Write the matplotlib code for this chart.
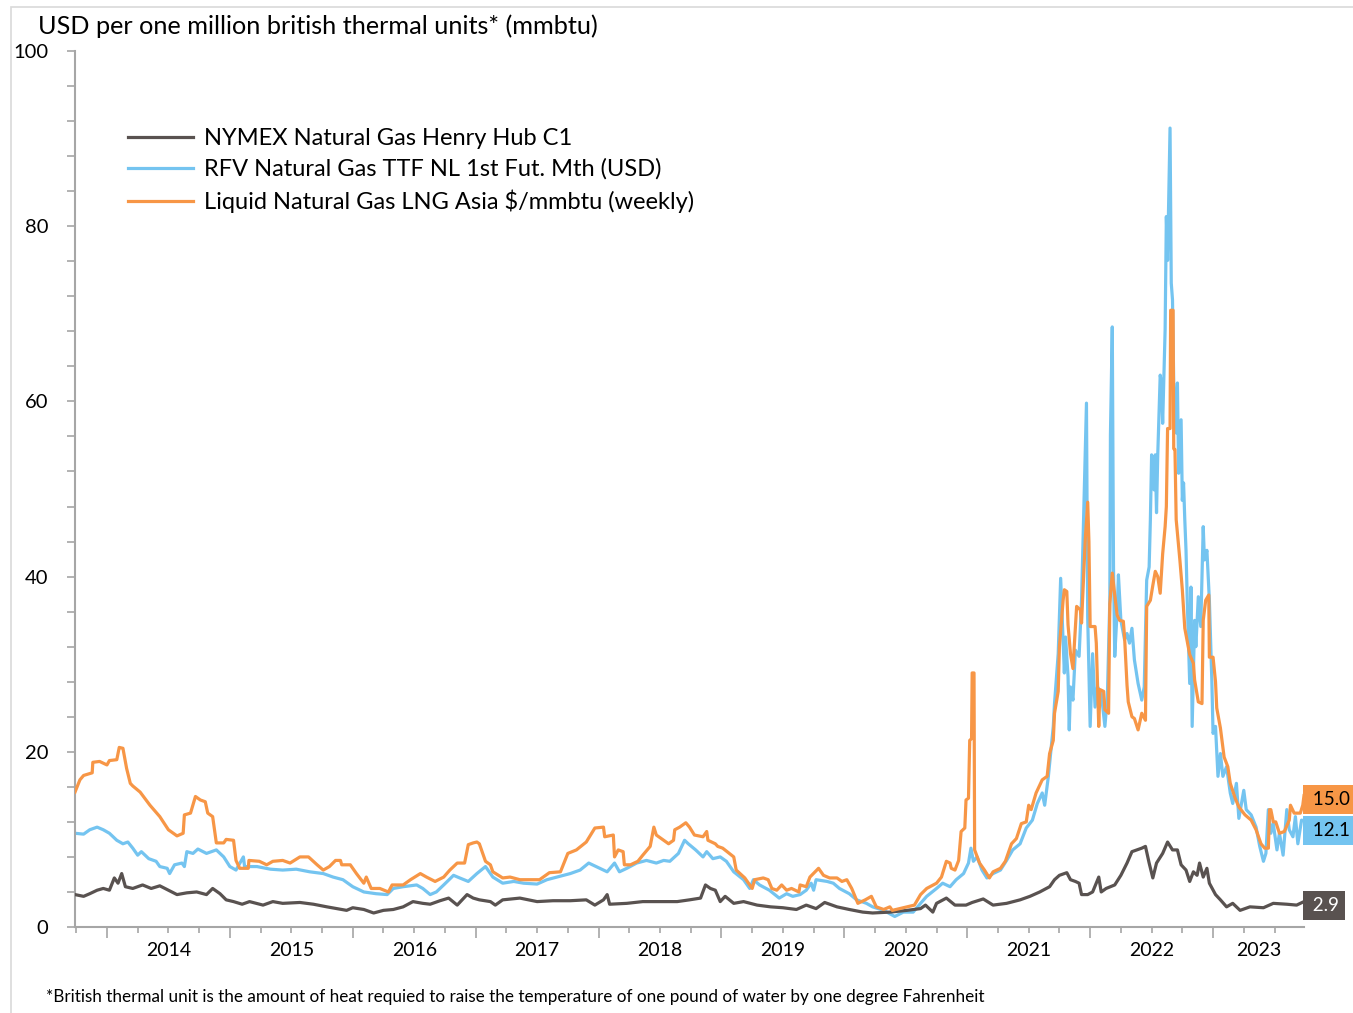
import matplotlib.pyplot as plt
import numpy as np
from matplotlib.ticker import FixedLocator, FuncFormatter
from matplotlib.patches import Rectangle

plt.rcParams['font.family'] = ['Lato', 'DejaVu Sans']

# --- data (decimal year, USD/mmbtu) ---
hh_t = [2013.74, 2013.81, 2013.86, 2013.92, 2013.97, 2014.02, 2014.06, 2014.09, 2014.12, 2014.15,
        2014.21, 2014.29, 2014.36, 2014.43, 2014.50, 2014.57, 2014.65, 2014.73, 2014.81, 2014.86,
        2014.92, 2014.97, 2015.03, 2015.10, 2015.16, 2015.27, 2015.35, 2015.43, 2015.57, 2015.68,
        2015.79, 2015.87, 2015.95, 2016.00, 2016.09, 2016.17, 2016.25, 2016.33, 2016.41, 2016.49,
        2016.57, 2016.63, 2016.71, 2016.78, 2016.85, 2016.93, 2016.98, 2017.03, 2017.12, 2017.16,
        2017.22, 2017.36, 2017.50, 2017.63, 2017.77, 2017.90, 2017.97, 2018.04, 2018.07, 2018.09,
        2018.23, 2018.36, 2018.50, 2018.64, 2018.74, 2018.83, 2018.87, 2018.91, 2018.95, 2018.99,
        2019.03, 2019.10, 2019.18, 2019.29, 2019.40, 2019.50, 2019.61, 2019.69, 2019.77, 2019.84,
        2019.94, 2020.04, 2020.15, 2020.23, 2020.37, 2020.51, 2020.62, 2020.66, 2020.72, 2020.75,
        2020.83, 2020.90, 2020.99, 2021.04, 2021.13, 2021.21, 2021.32, 2021.43, 2021.51, 2021.59,
        2021.67, 2021.71, 2021.75, 2021.81, 2021.84, 2021.88, 2021.91, 2021.93, 2021.98, 2022.02,
        2022.07, 2022.09, 2022.13, 2022.20, 2022.25, 2022.30, 2022.34, 2022.38, 2022.42, 2022.45,
        2022.48, 2022.51, 2022.54, 2022.59, 2022.63, 2022.67, 2022.71, 2022.74, 2022.78, 2022.81,
        2022.84, 2022.87, 2022.89, 2022.92, 2022.95, 2022.97, 2023.02, 2023.06, 2023.11, 2023.16,
        2023.22, 2023.30, 2023.41, 2023.49, 2023.60, 2023.68, 2023.74]
hh_v = [3.7, 3.5, 3.8, 4.2, 4.4, 4.2, 5.6, 5.0, 6.1, 4.6,
        4.4, 4.8, 4.4, 4.7, 4.2, 3.7, 3.9, 4.0, 3.7, 4.4,
        3.8, 3.1, 2.9, 2.6, 2.9, 2.5, 2.9, 2.7, 2.8, 2.6,
        2.3, 2.1, 1.9, 2.2, 2.0, 1.6, 1.9, 2.0, 2.3, 2.9,
        2.7, 2.6, 3.0, 3.3, 2.5, 3.7, 3.3, 3.1, 2.9, 2.5,
        3.1, 3.3, 2.9, 3.0, 3.0, 3.1, 2.5, 3.1, 3.7, 2.6,
        2.7, 2.9, 2.9, 2.9, 3.1, 3.3, 4.8, 4.4, 4.2, 2.9,
        3.5, 2.7, 2.9, 2.5, 2.3, 2.2, 2.0, 2.5, 2.1, 2.8,
        2.3, 2.0, 1.7, 1.6, 1.7, 1.9, 2.1, 2.5, 1.7, 2.7,
        3.3, 2.5, 2.5, 2.8, 3.2, 2.5, 2.7, 3.1, 3.5, 4.0,
        4.6, 5.4, 5.9, 6.2, 5.4, 5.2, 5.0, 3.7, 3.7, 4.0,
        5.7, 4.0, 4.4, 4.8, 5.9, 7.3, 8.6, 8.8, 9.0, 9.2,
        7.3, 5.6, 7.3, 8.4, 9.7, 8.8, 8.8, 7.1, 6.5, 5.2,
        6.3, 5.9, 7.3, 5.7, 6.7, 5.0, 3.7, 3.1, 2.3, 2.7,
        1.9, 2.3, 2.2, 2.7, 2.6, 2.5, 2.9]

ttf_t = [2013.74, 2013.81, 2013.86, 2013.92, 2013.97, 2014.02, 2014.08, 2014.13, 2014.17, 2014.21,
         2014.25, 2014.28, 2014.34, 2014.40, 2014.43, 2014.49, 2014.51, 2014.55, 2014.61, 2014.63,
         2014.65, 2014.70, 2014.74, 2014.81, 2014.89, 2014.95, 2015.00, 2015.05, 2015.11, 2015.12,
         2015.22, 2015.33, 2015.43, 2015.54, 2015.65, 2015.76, 2015.84, 2015.92, 2016.00, 2016.09,
         2016.19, 2016.28, 2016.33, 2016.41, 2016.52, 2016.57, 2016.63, 2016.68, 2016.74, 2016.82,
         2016.87, 2016.94, 2017.01, 2017.08, 2017.11, 2017.14, 2017.22, 2017.31, 2017.39, 2017.50,
         2017.58, 2017.66, 2017.77, 2017.85, 2017.92, 2017.98, 2018.07, 2018.13, 2018.17, 2018.23,
         2018.31, 2018.39, 2018.47, 2018.53, 2018.58, 2018.65, 2018.70, 2018.73, 2018.79, 2018.85,
         2018.88, 2018.93, 2018.99, 2019.04, 2019.10, 2019.18, 2019.23, 2019.26, 2019.31, 2019.39,
         2019.47, 2019.53, 2019.58, 2019.64, 2019.69, 2019.73, 2019.75, 2019.77, 2019.86, 2019.91,
         2019.96, 2020.04, 2020.10, 2020.18, 2020.23, 2020.32, 2020.41, 2020.48, 2020.56, 2020.62,
         2020.67, 2020.75, 2020.80, 2020.86, 2020.91, 2020.97, 2021.01, 2021.03, 2021.05, 2021.08,
         2021.12, 2021.16, 2021.21, 2021.27, 2021.32, 2021.37, 2021.43, 2021.48, 2021.53, 2021.57,
         2021.61, 2021.63, 2021.66, 2021.70, 2021.71, 2021.74, 2021.76, 2021.78, 2021.79, 2021.80,
         2021.82, 2021.83, 2021.84, 2021.86, 2021.88, 2021.91, 2021.93, 2021.94, 2021.97, 2021.98,
         2022.00, 2022.02, 2022.04, 2022.06, 2022.09, 2022.12, 2022.14, 2022.16, 2022.165, 2022.18,
         2022.19, 2022.20, 2022.22, 2022.23, 2022.25, 2022.28, 2022.30, 2022.32, 2022.34, 2022.36,
         2022.39, 2022.42, 2022.44, 2022.46, 2022.48, 2022.49, 2022.50, 2022.52, 2022.53, 2022.54,
         2022.55, 2022.57, 2022.58, 2022.59, 2022.61, 2022.62, 2022.63, 2022.65, 2022.66, 2022.67,
         2022.68, 2022.70, 2022.71, 2022.72, 2022.74, 2022.75, 2022.76, 2022.77, 2022.78, 2022.79,
         2022.81, 2022.82, 2022.83, 2022.85, 2022.86, 2022.88, 2022.90, 2022.92, 2022.93, 2022.95,
         2022.97, 2022.99, 2023.00, 2023.02, 2023.04, 2023.06, 2023.08, 2023.11, 2023.14, 2023.16,
         2023.19, 2023.21, 2023.25, 2023.27, 2023.31, 2023.35, 2023.38, 2023.41, 2023.43, 2023.45,
         2023.47, 2023.49, 2023.52, 2023.54, 2023.57, 2023.60, 2023.62, 2023.65, 2023.67, 2023.69,
         2023.72, 2023.74]
ttf_v = [10.7, 10.6, 11.1, 11.4, 11.1, 10.7, 9.9, 9.5, 9.7, 9.0,
         8.2, 8.6, 7.8, 7.5, 6.9, 6.7, 6.1, 7.1, 7.3, 6.9,
         8.6, 8.4, 8.9, 8.4, 8.8, 8.0, 6.9, 6.5, 8.0, 6.9,
         6.9, 6.6, 6.5, 6.6, 6.3, 6.1, 5.7, 5.4, 4.6, 4.0,
         3.8, 3.7, 4.4, 4.6, 4.8, 4.4, 3.7, 4.0, 4.8, 5.9,
         5.6, 5.2, 6.1, 6.9, 6.3, 5.7, 5.0, 5.2, 5.0, 4.9,
         5.4, 5.7, 6.1, 6.5, 7.3, 6.9, 6.3, 7.3, 6.3, 6.7,
         7.3, 7.6, 7.3, 7.6, 7.5, 8.4, 9.9, 9.5, 8.8, 8.0,
         8.6, 7.8, 8.0, 7.5, 6.3, 5.4, 4.4, 5.4, 4.8, 4.2,
         3.3, 3.8, 3.5, 3.7, 4.2, 5.0, 4.2, 5.4, 5.2, 5.0,
         4.4, 3.8, 3.1, 2.7, 2.3, 1.9, 1.2, 1.7, 1.7, 2.7,
         3.5, 4.4, 5.0, 4.6, 5.4, 6.1, 7.3, 9.0, 7.5, 8.0,
         6.5, 5.6, 6.1, 6.5, 7.6, 8.8, 9.5, 11.3, 12.2, 14.1,
         15.3, 13.9, 17.2, 22.9, 25.5, 31.2, 39.8, 32.8, 29.0, 33.1,
         28.6, 22.5, 27.4, 25.9, 31.6, 30.9, 37.3, 43.0, 59.8, 35.4,
         22.9, 31.2, 25.1, 27.4, 26.7, 22.9, 26.3, 37.3, 56.2, 68.5,
         41.1, 30.9, 36.2, 40.2, 35.0, 32.8, 33.5, 32.4, 34.1, 30.5,
         27.8, 25.9, 27.4, 39.6, 41.1, 46.5, 53.9, 49.9, 53.9, 47.3,
         53.9, 63.0, 62.1, 57.5, 68.2, 81.1, 76.1, 91.2, 73.5, 71.6,
         62.1, 56.4, 62.1, 51.8, 57.9, 48.7, 50.7, 46.5, 43.0, 37.3,
         27.8, 38.8, 22.9, 35.0, 32.0, 37.7, 34.3, 45.7, 41.9, 43.0,
         37.3, 28.2, 22.1, 22.9, 17.2, 19.8, 17.2, 18.3, 15.3, 14.1,
         16.4, 12.4, 15.6, 13.4, 12.8, 11.4, 9.2, 7.5, 8.4, 13.4,
         10.7, 11.8, 8.8, 10.7, 8.2, 13.4, 11.1, 10.3, 12.6, 9.5,
         12.2, 12.1]

lng_t = [2013.74, 2013.78, 2013.81, 2013.88, 2013.885, 2013.94, 2014.00, 2014.02, 2014.08, 2014.10,
         2014.13, 2014.16, 2014.19, 2014.21, 2014.27, 2014.35, 2014.43, 2014.50, 2014.57, 2014.62,
         2014.63, 2014.68, 2014.72, 2014.76, 2014.80, 2014.82, 2014.86, 2014.89, 2014.95, 2014.97,
         2015.03, 2015.05, 2015.08, 2015.15, 2015.155, 2015.24, 2015.30, 2015.35, 2015.43, 2015.49,
         2015.57, 2015.64, 2015.71, 2015.76, 2015.81, 2015.86, 2015.90, 2015.91, 2015.98, 2016.03,
         2016.09, 2016.11, 2016.15, 2016.22, 2016.29, 2016.32, 2016.41, 2016.47, 2016.55, 2016.60,
         2016.67, 2016.74, 2016.79, 2016.85, 2016.91, 2016.94, 2016.98, 2017.01, 2017.03, 2017.08,
         2017.12, 2017.14, 2017.22, 2017.28, 2017.36, 2017.52, 2017.60, 2017.69, 2017.75, 2017.82,
         2017.90, 2017.97, 2018.04, 2018.05, 2018.12, 2018.13, 2018.16, 2018.20, 2018.21, 2018.26,
         2018.32, 2018.36, 2018.42, 2018.45, 2018.47, 2018.53, 2018.57, 2018.61, 2018.62, 2018.66,
         2018.71, 2018.74, 2018.78, 2018.85, 2018.88, 2018.89, 2018.95, 2018.97, 2019.01, 2019.10,
         2019.12, 2019.19, 2019.25, 2019.27, 2019.34, 2019.38, 2019.41, 2019.45, 2019.49, 2019.53,
         2019.57, 2019.63, 2019.64, 2019.69, 2019.72, 2019.79, 2019.83, 2019.88, 2019.94, 2019.98,
         2020.02, 2020.06, 2020.11, 2020.17, 2020.22, 2020.26, 2020.32, 2020.37, 2020.39, 2020.51,
         2020.57, 2020.62, 2020.67, 2020.75, 2020.79, 2020.83, 2020.86, 2020.87, 2020.90, 2020.93,
         2020.95, 2020.98, 2020.99, 2021.01, 2021.02, 2021.035, 2021.04, 2021.055, 2021.06, 2021.10,
         2021.14, 2021.18, 2021.21, 2021.27, 2021.31, 2021.36, 2021.40, 2021.44, 2021.48, 2021.50,
         2021.52, 2021.56, 2021.61, 2021.65, 2021.67, 2021.70, 2021.71, 2021.74, 2021.75, 2021.78,
         2021.79, 2021.81, 2021.82, 2021.84, 2021.86, 2021.89, 2021.92, 2021.93, 2021.96, 2021.98,
         2021.99, 2022.00, 2022.04, 2022.05, 2022.07, 2022.08, 2022.11, 2022.12, 2022.15, 2022.16,
         2022.18, 2022.20, 2022.22, 2022.24, 2022.27, 2022.28, 2022.30, 2022.31, 2022.34, 2022.36,
         2022.39, 2022.42, 2022.45, 2022.46, 2022.49, 2022.51, 2022.53, 2022.55, 2022.57, 2022.59,
         2022.61, 2022.62, 2022.63, 2022.65, 2022.655, 2022.675, 2022.68, 2022.69, 2022.70, 2022.73,
         2022.75, 2022.77, 2022.79, 2022.81, 2022.84, 2022.85, 2022.88, 2022.91, 2022.92, 2022.94,
         2022.965, 2022.97, 2023.00, 2023.02, 2023.03, 2023.06, 2023.09, 2023.12, 2023.14, 2023.18,
         2023.21, 2023.26, 2023.31, 2023.35, 2023.39, 2023.42, 2023.45, 2023.46, 2023.47, 2023.49,
         2023.51, 2023.54, 2023.58, 2023.62, 2023.63, 2023.66, 2023.71, 2023.73, 2023.74]
lng_v = [15.4, 16.8, 17.3, 17.6, 18.8, 18.9, 18.5, 19.0, 19.1, 20.5,
         20.4, 18.1, 16.4, 16.1, 15.4, 13.9, 12.6, 11.1, 10.4, 10.7,
         12.8, 13.0, 14.9, 14.5, 14.3, 13.0, 12.6, 9.6, 9.6, 10.0,
         9.9, 7.6, 6.7, 6.7, 7.6, 7.5, 7.1, 7.5, 7.6, 7.3,
         8.0, 8.0, 7.1, 6.5, 6.9, 7.6, 7.6, 7.1, 7.1, 6.1,
         5.0, 5.7, 4.4, 4.4, 4.0, 4.8, 4.8, 5.4, 6.1, 5.7,
         5.2, 5.7, 6.5, 7.3, 7.3, 9.4, 9.6, 9.7, 9.5, 7.5,
         7.1, 6.3, 5.6, 5.7, 5.4, 5.4, 6.2, 6.3, 8.4, 8.8,
         9.7, 11.3, 11.4, 10.3, 10.5, 8.0, 8.8, 8.6, 7.1, 7.1,
         7.5, 8.2, 9.2, 11.4, 10.5, 9.9, 9.5, 9.9, 11.1, 11.4,
         11.9, 11.4, 10.5, 10.3, 10.9, 9.9, 9.5, 9.2, 9.0, 8.0,
         6.5, 5.6, 4.4, 5.4, 5.6, 5.4, 4.4, 4.2, 4.8, 4.2,
         4.4, 4.0, 4.8, 4.6, 5.7, 6.7, 5.9, 5.6, 5.6, 5.2,
         5.4, 4.4, 2.7, 3.1, 3.5, 2.3, 2.0, 2.3, 1.9, 2.3,
         2.5, 3.7, 4.4, 5.0, 5.7, 7.5, 7.3, 6.7, 6.5, 7.6,
         10.9, 11.3, 14.5, 14.7, 21.3, 21.5, 29.0, 29.0, 8.8, 7.3,
         6.5, 5.6, 6.3, 6.7, 7.5, 9.5, 10.1, 11.8, 12.0, 13.9,
         13.4, 15.3, 16.8, 17.2, 19.8, 21.3, 24.4, 26.9, 32.0, 37.3,
         38.5, 38.3, 34.5, 31.2, 29.5, 36.6, 36.2, 34.7, 44.2, 48.5,
         44.0, 34.3, 34.3, 32.4, 22.9, 27.1, 26.9, 24.8, 24.4, 36.9,
         40.4, 37.9, 35.6, 35.0, 34.9, 33.1, 27.6, 25.7, 24.0, 23.8,
         22.5, 24.4, 23.6, 36.6, 37.3, 39.0, 40.6, 40.0, 38.1, 42.6,
         45.7, 48.0, 56.9, 56.9, 70.4, 70.4, 54.6, 54.5, 46.5, 41.9,
         38.5, 34.1, 32.6, 31.1, 30.1, 28.2, 25.7, 25.5, 35.0, 37.3,
         37.9, 30.8, 30.8, 28.0, 25.0, 22.7, 19.4, 18.3, 16.4, 14.7,
         13.7, 12.8, 12.2, 11.1, 9.5, 9.0, 9.0, 13.4, 13.4, 12.0,
         12.0, 10.7, 10.9, 12.2, 13.9, 13.0, 13.0, 13.9, 15.0]

labels = ['NYMEX Natural Gas Henry Hub C1',
          'RFV Natural Gas TTF NL 1st Fut. Mth (USD)',
          'Liquid Natural Gas LNG Asia $/mmbtu (weekly)']
colors = ['#595250', '#74C4F0', '#F79646']
years = list(range(2014, 2024))
x_start, x_end = 2013.74, 2023.74

W, H = 1353, 1013
fig = plt.figure(figsize=(W / 100, H / 100), dpi=100)
ax = fig.add_axes([75 / W, 1 - 927 / H, (1304 - 75) / W, (927 - 51) / H])

ax.plot(hh_t, hh_v, color=colors[0], lw=2.3, label=labels[0], zorder=3)
ax.plot(ttf_t, ttf_v, color=colors[1], lw=2.3, label=labels[1], zorder=2)
ax.plot(lng_t, lng_v, color=colors[2], lw=2.3, label=labels[2], zorder=4)

ax.set_xlim(x_start, x_end)
ax.set_ylim(0, 100)

grey = '#A6A6A6'
for s in ['top', 'right']:
    ax.spines[s].set_visible(False)
for s in ['left', 'bottom']:
    ax.spines[s].set_color(grey)
    ax.spines[s].set_linewidth(1.5)

# y axis: ticks every 4, labels every 20
ax.yaxis.set_major_locator(FixedLocator(np.arange(0, 101, 4)))
ax.yaxis.set_major_formatter(FuncFormatter(lambda v, p: f'{v:.0f}' if round(v) % 20 == 0 else ''))
ax.tick_params(axis='y', direction='out', length=6, width=1.2, color=grey,
               labelsize=14.5, pad=13)

# x axis: long ticks at each new year, short ones each quarter, labels centred in each year
quarters = [q for q in np.arange(2013.75, 2023.76, 0.25) if q % 1 != 0]
ax.xaxis.set_major_locator(FixedLocator(years))
ax.xaxis.set_minor_locator(FixedLocator(quarters))
ax.xaxis.set_major_formatter(FuncFormatter(lambda v, p: ''))
ax.tick_params(axis='x', which='major', direction='out', length=8, width=1.2, color=grey)
ax.tick_params(axis='x', which='minor', direction='out', length=4, width=1.2, color=grey)
for y in years:
    mid = (max(y, x_start) + min(y + 1, x_end)) / 2
    ax.text(mid, -0.027, str(y), transform=ax.get_xaxis_transform(),
            ha='center', va='center', fontsize=14)

ax.legend(loc='upper left', bbox_to_anchor=((128 - 75) / 1229, (927 - 128) / 876),
          frameon=False, fontsize=17, borderpad=0, borderaxespad=0,
          handlelength=2.75, handletextpad=0.45, labelspacing=0.4)

# end-of-series value boxes (nudged apart like the original labels)
ends = [(lng_v[-1], colors[2], 'black', -2.8), (ttf_v[-1], colors[1], 'black', -6.8),
        (hh_v[-1], colors[0], 'white', -2.8)]
for val, fc, tc, dy in ends:
    ax.annotate(f' {val:.1f}', xy=(1.0, val), xycoords=('axes fraction', 'data'),
                xytext=(3.2, dy), textcoords='offset points', ha='left', va='center',
                fontsize=13.5, color=tc, annotation_clip=False,
                bbox=dict(boxstyle='square,pad=0.3', fc=fc, ec='none'))

fig.text(38 / W, 1 - 26 / H, 'USD per one million british thermal units* (mmbtu)',
         ha='left', va='center', fontsize=18.2)
fig.text(46 / W, 1 - 997 / H,
         '*British thermal unit is the amount of heat requied to raise the temperature '
         'of one pound of water by one degree Fahrenheit',
         ha='left', va='center', fontsize=12.3)

# light frame around the chart area
fig.patches.append(Rectangle((11 / W, -0.1), 1.2, 1 - 7 / H + 0.1, transform=fig.transFigure,
                             fill=False, ec='#D9D9D9', lw=1.2))

fig.savefig('out.png', dpi=100)
